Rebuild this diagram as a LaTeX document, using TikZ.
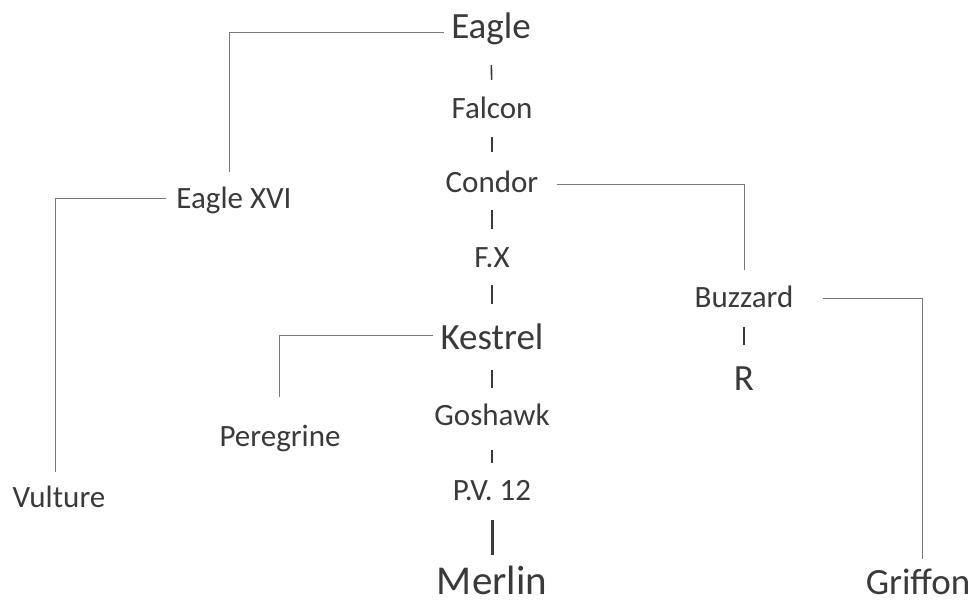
\documentclass[tikz,border=0pt]{standalone}
\usepackage{fontspec}
\setmainfont{Carlito}
\definecolor{inkgray}{HTML}{3A3A3A}
\definecolor{wiregray}{HTML}{7A7A7A}
\tikzset{
  bird/.style={anchor=base, inner sep=0pt, text=inkgray, font=\fontsize{31}{37}\selectfont, text height=20pt, text depth=6.8pt},
  bigbird/.style={bird, font=\fontsize{37}{44}\selectfont, text height=23.8pt, text depth=8.1pt},
  lastbird/.style={bird, font=\fontsize{41}{49}\selectfont, text height=26.4pt, text depth=1pt},
  branch/.style={draw=wiregray, line width=1pt},
  tick/.style={draw=inkgray, line width=1.6pt},
}

\begin{document}
\begin{tikzpicture}[x=1pt, y=-1pt]
    \useasboundingbox[fill=white] (0,0) rectangle (976,604);

    % main line
    \node[bigbird] (eagle) at (491,38.5) {Eagle};
    \node[bird] (falcon) at (492,119) {Falcon};
    \node[bird] (condor) at (492,193) {Condor};
    \node[bird] (fx) at (492,267) {F.X};
    \node[bigbird] (kestrel) at (492,349) {Kestrel};
    \node[bird] (goshawk) at (492,425) {Goshawk};
    \node[bird] (pv) at (492,500) {P.V.~12};
    \node[lastbird] (merlin) at (492,594) {Merlin};

    % side lines
    \node[bird] (eaglexvi) at (234,208) {Eagle XVI};
    \node[bird] (vulture) at (59,507) {Vulture};
    \node[bird] (peregrine) at (280,446) {Peregrine};
    \node[bird] (buzzard) at (744,307) {Buzzard};
    \node[bigbird] (r) at (744,390) {R};
    \node[bigbird, text depth=1pt] (griffon) at (918,594) {Griffon};

    \draw[tick, shorten <=18.4pt, shorten >=19pt] (eagle.south) -- (falcon.north);
    \draw[tick, shorten <=11.2pt, shorten >=21pt] (falcon.south) -- (condor.north);
    \draw[tick, shorten <=10.2pt, shorten >=18pt] (condor.south) -- (fx.north);
    \draw[tick, shorten <=11.2pt, shorten >=21.2pt] (fx.south) -- (kestrel.north);
    \draw[tick, shorten <=12.9pt, shorten >=17pt] (kestrel.south) -- (goshawk.north);
    \draw[tick, shorten <=18.2pt, shorten >=17pt] (goshawk.south) -- (pv.north);
    \draw[tick, line width=3pt, shorten <=13.2pt, shorten >=12pt] (pv.south) -- (merlin.north);
    \draw[tick, shorten <=13.2pt, shorten >=21.2pt] (buzzard.south) -- (r.north);

    \draw[branch, shorten <=7pt, shorten >=16pt] ([yshift=5.5pt]eagle.base west) -| ([xshift=-5pt]eaglexvi.north);
    \draw[branch, shorten <=10pt, shorten >=15pt] ([yshift=10pt]eaglexvi.base west) -| ([xshift=-4pt]vulture.north);
    \draw[branch, shorten <=7pt, shorten >=29pt] ([yshift=14pt]kestrel.base west) -| ([xshift=-1pt]peregrine.north);
    \draw[branch, shorten <=18pt, shorten >=17pt] ([yshift=9pt]condor.base east) -| (buzzard.north);
    \draw[branch, shorten <=29pt, shorten >=11pt] ([yshift=9pt]buzzard.base east) -| ([xshift=4pt]griffon.north);
\end{tikzpicture}
\end{document}
